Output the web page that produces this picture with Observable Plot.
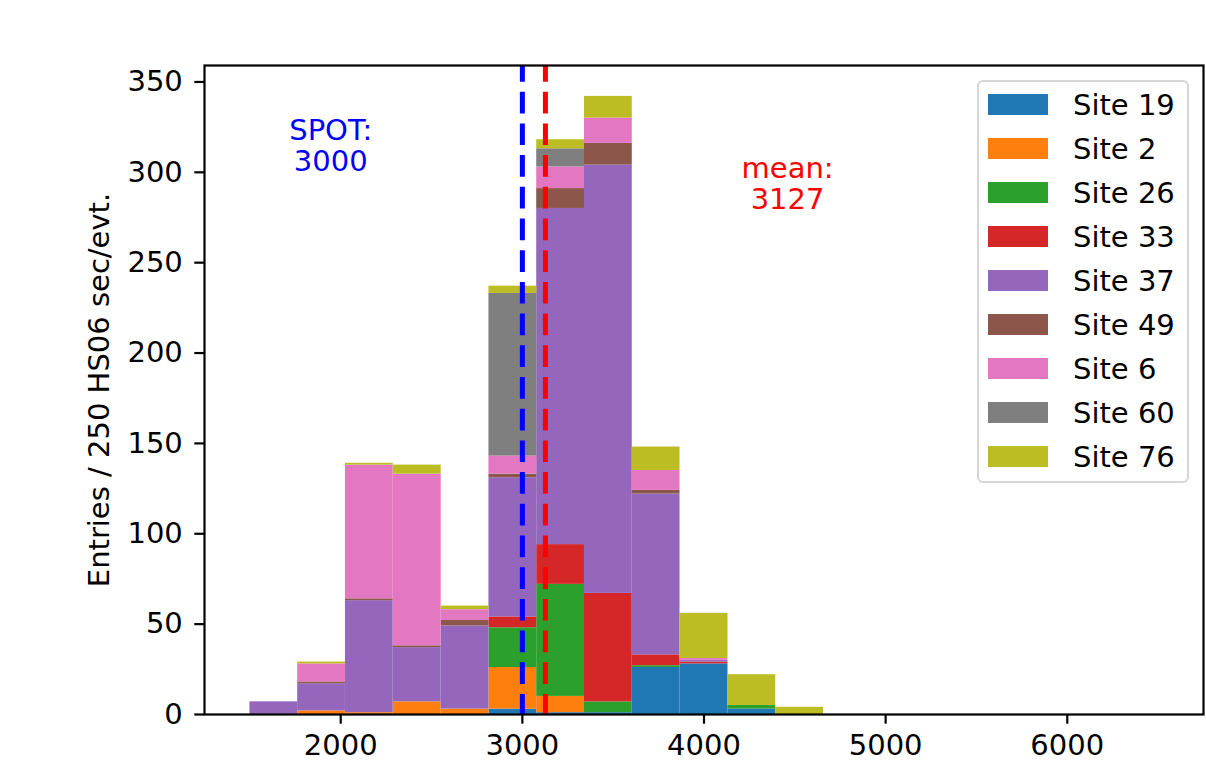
<!DOCTYPE html>
<html>
<head>
<meta charset="utf-8">
<script src="https://cdn.jsdelivr.net/npm/d3@7"></script>
<script src="https://cdn.jsdelivr.net/npm/@observablehq/plot@0.6"></script>
<style>
  html, body { margin: 0; padding: 0; background: white; }
  #wrap { position: relative; width: 1206px; height: 773px; font-family: "DejaVu Sans", sans-serif; }
  .legend-box { position: absolute; box-sizing: border-box; border: 2.2px solid #d6d6d6; border-radius: 6px; background: rgba(255,255,255,0.8); }
  .legend-patch { position: absolute; width: 60px; height: 21px; }
  .legend-label { position: absolute; font-size: 29px; line-height: 29px; height: 29px; white-space: nowrap; color: black; }
</style>
</head>
<body>
<div id="wrap"></div>
<script>
// Bin edges (HS06 sec/evt.)
const binEdges = [1500, 1763, 2026, 2289, 2553, 2816, 3079, 3342, 3605, 3868, 4132, 4395, 4658];

// Sites (stack order, bottom to top) and colours
const sites = ["Site 19", "Site 2", "Site 26", "Site 33", "Site 37", "Site 49", "Site 6", "Site 60", "Site 76"];
const siteColors = ["#1f77b4", "#ff7f0e", "#2ca02c", "#d62728", "#9467bd", "#8c564b", "#e377c2", "#7f7f7f", "#bcbd22"];

// Entries per bin for each site
const site19 = [0, 0, 0, 0, 0, 3, 1, 1, 26, 28, 3, 0];
const site2  = [0, 2, 1, 7, 3, 23, 9, 0, 0, 0, 0, 0];
const site26 = [0, 0, 0, 0, 0, 22, 62, 6, 1, 0, 2, 0];
const site33 = [0, 0, 0, 0, 0, 6, 22, 60, 6, 1, 0, 0];
const site37 = [7, 15, 62, 30, 46, 77, 186, 237, 89, 1, 0, 0];
const site49 = [0, 1, 1, 1, 3, 2, 11, 12, 2, 0, 0, 0];
const site6  = [0, 10, 74, 95, 6, 10, 12, 14, 11, 1, 0, 0];
const site60 = [0, 0, 0, 0, 0, 90, 10, 0, 0, 0, 0, 0];
const site76 = [0, 1, 1, 5, 2, 4, 5, 12, 13, 25, 17, 4];
const siteCounts = [site19, site2, site26, site33, site37, site49, site6, site60, site76];

// Reference lines and annotations
const spotValue = 3000;
const meanValue = 3127;
const annotations = [
  {x: 1945, y: 315, text: "SPOT:\n3000", color: "blue"},
  {x: 4460, y: 294, text: "mean:\n3127", color: "red"}
];

// Axes
const xTicks = [2000, 3000, 4000, 5000, 6000];
const yTicks = [0, 50, 100, 150, 200, 250, 300, 350];
const yLabel = "Entries / 250 HS06 sec/evt.";
const xDomain = [1250, 6750];
const yDomain = [0, 359.1];

// Build long-form table
const rows = [];
siteCounts.forEach((counts, s) => {
  counts.forEach((c, i) => {
    if (c > 0) rows.push({site: sites[s], x1: binEdges[i], x2: binEdges[i + 1], count: c});
  });
});

const FS = 29;

const chart = Plot.plot({
  width: 1206,
  height: 773,
  marginLeft: 204,
  marginRight: 3,
  marginTop: 65,
  marginBottom: 59,
  x: {domain: xDomain},
  y: {domain: yDomain},
  color: {domain: sites, range: siteColors},
  style: {fontFamily: "DejaVu Sans", fontSize: FS + "px", color: "black", background: "white", overflow: "visible"},
  marks: [
    Plot.rectY(rows, {x1: "x1", x2: "x2", y: "count", fill: "site"}),
    Plot.ruleX([spotValue], {stroke: "blue", strokeWidth: 5, strokeDasharray: "21.7,10", strokeDashoffset: 5}),
    Plot.ruleX([meanValue], {stroke: "red", strokeWidth: 5, strokeDasharray: "21.7,10", strokeDashoffset: 5}),
    Plot.text(annotations, {x: "x", y: "y", text: "text", fill: "color", fontSize: FS, lineHeight: 1.07}),
    Plot.frame({stroke: "black", strokeWidth: 2.2}),
    Plot.axisX({ticks: xTicks, tickFormat: "d", tickSize: 9.7, tickPadding: 10, strokeWidth: 2.2, label: null, fontSize: FS}),
    Plot.axisY({ticks: yTicks, tickFormat: "d", tickSize: 9.7, tickPadding: 12, strokeWidth: 2.2, label: null, fontSize: FS}),
    Plot.text([yLabel], {frameAnchor: "left", text: d => d, rotate: -90, dx: -105, lineAnchor: "middle", textAnchor: "middle", fontSize: FS, fill: "black"})
  ]
});

const wrap = document.getElementById("wrap");
wrap.appendChild(chart);

// Legend inside the axes (upper right)
const box = document.createElement("div");
box.className = "legend-box";
Object.assign(box.style, {left: "977px", top: "80px", width: "212px", height: "403px"});
wrap.appendChild(box);
sites.forEach((s, i) => {
  const p = document.createElement("div");
  p.className = "legend-patch";
  Object.assign(p.style, {left: "988px", top: (94 + 44 * i) + "px", background: siteColors[i]});
  wrap.appendChild(p);
  const t = document.createElement("div");
  t.className = "legend-label";
  t.textContent = s;
  Object.assign(t.style, {left: "1073px", top: (104.5 + 44 * i - 14) + "px"});
  wrap.appendChild(t);
});
</script>
</body>
</html>
